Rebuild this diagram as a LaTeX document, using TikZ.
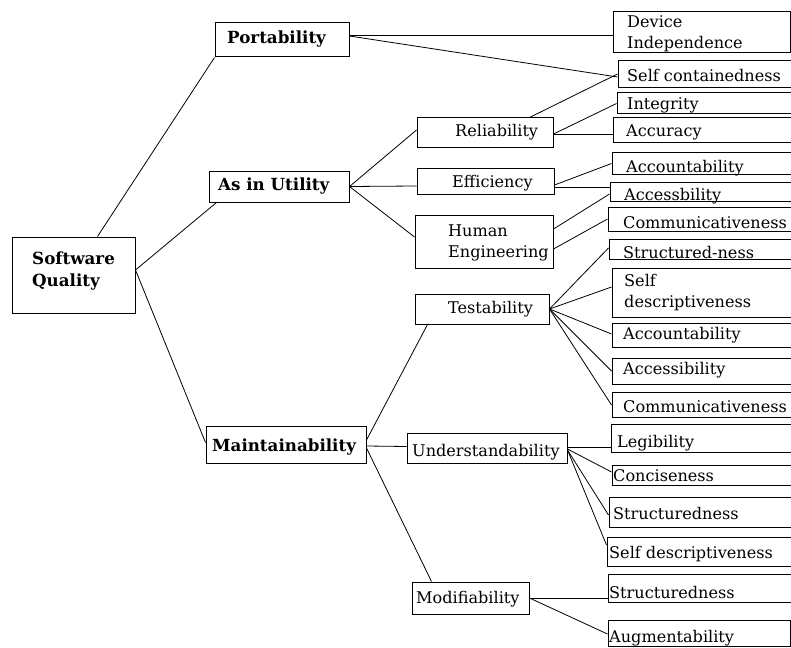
\documentclass[tikz,border=0pt]{standalone}
\usepackage{fontspec}
\setmainfont{DejaVu Serif}
\usetikzlibrary{calc,fit}
\tikzset{
  qb/.style={draw, line width=1pt, inner sep=0pt, rectangle},
  qt/.style={inner sep=0pt, anchor=base west, font=\fontsize{16.1}{21}\selectfont},
  qtb/.style={qt, font=\fontsize{16.7}{21}\selectfont\bfseries},
  link/.style={line width=0.8pt},
}
\newcommand\qbox[5]{\node[qb, fit={(#2,#3)(#4,#5)}] (#1) {};}
\begin{document}
\begin{tikzpicture}[x=1pt,y=-1pt]
\useasboundingbox (0,0) rectangle (791,647);
\clip (0,0) rectangle (791,647);
% boxes
\qbox{port}{215}{23}{349}{57}
\qbox{au}{209}{171}{349}{202}
\qbox{sq}{12}{237}{135}{313}
\qbox{maint}{206}{426}{366}{463}
\qbox{devi}{613}{12}{790}{53}
\qbox{selfc}{618}{61}{800}{88}
\qbox{integ}{617}{93}{800}{114}
\qbox{accur}{613}{118}{800}{143}
\qbox{rel}{417}{118}{553}{148}
\qbox{eff}{417}{168}{554}{194}
\qbox{acctA}{612}{153}{800}{174}
\qbox{accsA}{610}{182}{800}{201}
\qbox{commA}{608}{207}{800}{231}
\qbox{he}{415}{215}{553}{268}
\qbox{strucA}{609}{239}{800}{259}
\qbox{selfdA}{612}{268}{800}{317}
\qbox{test}{415}{294}{549}{324}
\qbox{acctB}{612}{323}{800}{347}
\qbox{accsB}{612}{358}{800}{384}
\qbox{commB}{612}{392}{800}{417}
\qbox{legib}{611}{424}{800}{452}
\qbox{und}{407}{433}{567}{463}
\qbox{conc}{612}{465}{800}{485}
\qbox{strucB}{609}{497}{800}{527}
\qbox{selfdB}{607}{537}{800}{566}
\qbox{strucC}{608}{574}{800}{602}
\qbox{augm}{608}{620}{790}{646}
\qbox{modif}{412}{582}{529}{614}
% texts
\node[qtb] (port-t) at (227,44) {Portability};
\node[qtb] (au-t) at (218,190) {As in Utility};
\node[qtb] (sq-t1) at (32,264) {Software};
\node[qtb] (sq-t2) at (32,286) {Quality};
\node[qtb] (maint-t) at (212,451) {Maintainability};
\node[qt] (devi-t1) at (627,28) {Device};
\node[qt] (devi-t2) at (627,49) {Independence};
\node[qt] (selfc-t) at (627,82) {Self containedness};
\node[qt] (integ-t) at (627,110) {Integrity};
\node[qt] (accur-t) at (626,137) {Accuracy};
\node[qt] (rel-t) at (455,137) {Reliability};
\node[qt] (eff-t) at (452,187) {Efficiency};
\node[qt] (acctA-t) at (626,172) {Accountability};
\node[qt] (accsA-t) at (624,200) {Accessbility};
\node[qt] (commA-t) at (623,228) {Communicativeness};
\node[qt] (he-t1) at (448,236) {Human};
\node[qt] (he-t2) at (448,257) {Engineering};
\node[qt] (strucA-t) at (623,258) {Structured-ness};
\node[qt] (selfdA-t1) at (624,286) {Self};
\node[qt] (selfdA-t2) at (624,307) {descriptiveness};
\node[qt] (test-t) at (448,313) {Testability};
\node[qt] (acctB-t) at (623,339) {Accountability};
\node[qt] (accsB-t) at (623,374) {Accessibility};
\node[qt] (commB-t) at (623,412) {Communicativeness};
\node[qt] (legib-t) at (617,447) {Legibility};
\node[qt] (und-t) at (412,456) {Understandability};
\node[qt] (conc-t) at (613,481) {Conciseness};
\node[qt] (strucB-t) at (613,519) {Structuredness};
\node[qt] (selfdB-t) at (609,558) {Self descriptiveness};
\node[qt] (strucC-t) at (609,598) {Structuredness};
\node[qt] (augm-t) at (609,642) {Augmentability};
\node[qt] (modif-t) at (416,603) {Modifiability};
% connectors
\draw[link] ($(sq.north west)+(86,0)$) -- (port.south west);
\draw[link] ($(sq.east)+(0,-5)$) -- ($(au.south west)+(8,0)$);
\draw[link] ($(sq.east)+(0,-5)$) -- ($(maint.west)+(0,-2)$);
\draw[link] ($(port.east)+(0,-5)$) -- ($(devi.west)+(0,2.5)$);
\draw[link] ($(port.east)+(0,-4)$) -- ($(selfc.west)+(0,2.5)$);
\draw[link] ($(rel.north west)+(113,0)$) -- ($(selfc.west)+(0,-0.5)$);
\draw[link] ($(rel.east)+(0,1)$) -- (integ.west);
\draw[link] ($(rel.east)+(0,1)$) -- ($(accur.west)+(0,3.5)$);
\draw[link] (au.east) -- ($(rel.west)+(0,-3)$);
\draw[link] (au.east) -- ($(eff.west)+(0,5)$);
\draw[link] (au.east) -- ($(he.west)+(0,-4.5)$);
\draw[link] ($(eff.east)+(0,4)$) -- (acctA.west);
\draw[link] ($(eff.east)+(0,6)$) -- ($(accsA.west)+(0,-4.5)$);
\draw[link] ($(he.east)+(0,-12.5)$) -- ($(accsA.west)+(0,2.5)$);
\draw[link] ($(he.east)+(0,7.5)$) -- (commA.west);
\draw[link] ($(maint.east)+(0,-4.5)$) -- ($(test.south west)+(13,0)$);
\draw[link] ($(maint.east)+(0,1.5)$) -- ($(und.west)+(0,-1.5)$);
\draw[link] ($(maint.east)+(0,3.5)$) -- ($(modif.north west)+(20,0)$);
\draw[link] (test.east) -- ($(strucA.west)+(0,-1)$);
\draw[link] (test.east) -- ($(selfdA.west)+(0,-5.5)$);
\draw[link] (test.east) -- ($(acctB.west)+(0,-1)$);
\draw[link] (test.east) -- (accsB.west);
\draw[link] (test.east) -- ($(commB.west)+(0,0.5)$);
\draw[link] ($(und.east)+(0,-1)$) -- ($(legib.west)+(0,9)$);
\draw[link] ($(und.east)+(0,1)$) -- ($(conc.west)+(0,-3)$);
\draw[link] ($(und.east)+(0,2)$) -- ($(strucB.west)+(0,3)$);
\draw[link] ($(und.east)+(0,2)$) -- ($(selfdB.west)+(0,-6.5)$);
\draw[link] (modif.east) -- ($(strucC.west)+(0,10)$);
\draw[link] (modif.east) -- ($(augm.west)+(0,1)$);
\end{tikzpicture}
\end{document}
